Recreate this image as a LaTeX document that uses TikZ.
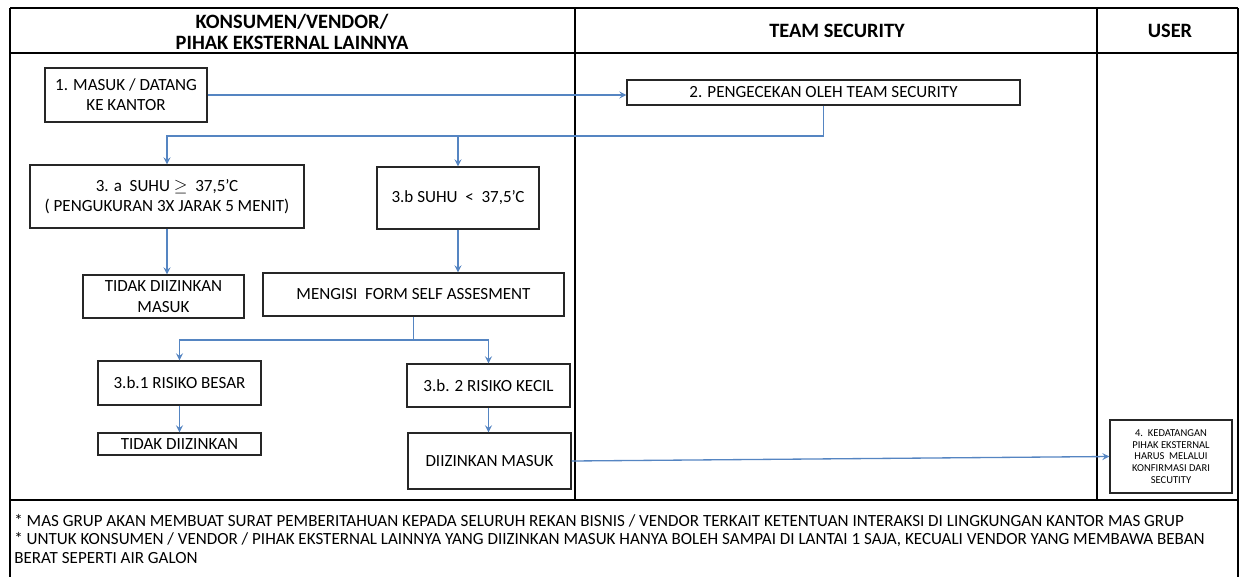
\documentclass[tikz,border=0pt]{standalone}
\usepackage{fontspec}
\setmainfont{Carlito}
\usetikzlibrary{arrows.meta}
\definecolor{flowblue}{HTML}{5585C2}
\tikzset{
  grid/.style={line width=1.5pt, black},
  box/.style={draw=black!85, line width=0.8pt, fill=white, align=center, inner sep=1pt,
              font=\fontsize{9.7}{11.5}\selectfont},
  head/.style={font=\fontsize{11.6}{12.4}\selectfont\bfseries, align=center},
  arr/.style={flowblue, line width=0.75pt, -{Stealth[length=4pt,width=4pt,inset=1.5pt]}},
  link/.style={flowblue, line width=0.75pt},
  note/.style={anchor=west, inner sep=0pt, font=\fontsize{9.7}{11}\selectfont}
}
\begin{document}
\begin{tikzpicture}[x=0.02cm, y=-0.02cm]
\useasboundingbox (0,0) rectangle (1245,576);
\fill[white] (0,0) rectangle (1245,576);

% lane table
\begin{scope}
\clip (0,0) rectangle (1245,576);
\draw[grid] (10,8) -- (1238,8);
\draw[grid] (10,53) -- (1238,53);
\draw[grid] (10,500) -- (1238,500);
\draw[grid] (10,8) -- (10,590);
\draw[grid] (1238,8) -- (1238,590);
\draw[grid] (575,8) -- (575,500);
\draw[grid] (1097,8) -- (1097,500);
\end{scope}

% lane headings
\node[head] (h1) at (292,32) {KONSUMEN/VENDOR/\\PIHAK EKSTERNAL LAINNYA};
\node[head] (h2) at (837,31) {TEAM SECURITY};
\node[head] (h3) at (1170,31) {USER};

% process steps
\node[box, minimum width=3.24cm, minimum height=1.08cm] (b1) at (126,95) {1. MASUK / DATANG\\KE KANTOR};
\node[box, minimum width=7.86cm, minimum height=0.5cm] (b2) at (823.5,92.5) {2. PENGECEKAN OLEH TEAM SECURITY};
\node[box, minimum width=5.48cm, minimum height=1.26cm] (b3a) at (167,196.5) {3. a\ \ SUHU $\geq$\ \ 37,5'C\\( PENGUKURAN 3X JARAK 5 MENIT)};
\node[box, minimum width=3.24cm, minimum height=1.24cm] (b3b) at (458,198) {3.b SUHU\ \ <\ \ 37,5'C};
\node[box, minimum width=3.22cm, minimum height=0.86cm] (tm) at (163.5,296.5) {TIDAK DIIZINKAN\\MASUK};
\node[box, minimum width=6.02cm, minimum height=0.86cm] (form) at (413.5,294.5) {MENGISI\ \ FORM SELF ASSESMENT};
\node[box, minimum width=3.26cm, minimum height=0.88cm] (b31) at (179.5,383) {3.b.1 RISIKO BESAR};
\node[box, minimum width=3.26cm, minimum height=0.86cm] (b32) at (488.5,385.5) {3.b. 2 RISIKO KECIL};
\node[box, minimum width=3.26cm, minimum height=0.44cm] (td) at (179.5,444) {TIDAK DIIZINKAN};
\node[box, minimum width=3.26cm, minimum height=1.12cm] (dm) at (489.5,461) {DIIZINKAN MASUK};
\node[box, minimum width=2.44cm, minimum height=1.46cm, font=\fontsize{6}{6.6}\selectfont] (b4) at (1171,456.5)
  {4.\ \ KEDATANGAN\\PIHAK EKSTERNAL\\HARUS\ \ MELALUI\\KONFIRMASI DARI\\SECUTITY};

% junctions of the branching connectors
\coordinate (j1) at (823.5,136);
\coordinate (j2) at (413.5,340);

% connectors
\draw[arr] (b1.east) -- (b1.east -| b2.west);
\draw[link] (b2.south) -- (j1);
\draw[arr] (j1) -| (b3a.north);
\draw[arr] (j1) -| (b3b.north);
\draw[arr] (b3a.south) -- (b3a.south |- tm.north);
\draw[arr] (b3b.south) -- (b3b.south |- form.north);
\draw[link] (form.south) -- (j2);
\draw[arr] (j2) -| (b31.north);
\draw[arr] (j2) -| (b32.north);
\draw[arr] (b31.south) -- (td.north);
\draw[arr] (b32.south) -- (b32.south |- dm.north);
\draw[arr] (dm.east) -- (b4.west);

% notes
\node[note] (n1) at (14,521) {* MAS GRUP AKAN MEMBUAT SURAT PEMBERITAHUAN KEPADA SELURUH REKAN BISNIS / VENDOR TERKAIT KETENTUAN INTERAKSI DI LINGKUNGAN KANTOR MAS GRUP};
\node[note] (n2) at (14,540) {* UNTUK KONSUMEN / VENDOR / PIHAK EKSTERNAL LAINNYA YANG DIIZINKAN MASUK HANYA BOLEH SAMPAI DI LANTAI 1 SAJA, KECUALI VENDOR YANG MEMBAWA BEBAN};
\node[note] (n3) at (14,558) {BERAT SEPERTI AIR GALON};
\end{tikzpicture}
\end{document}
